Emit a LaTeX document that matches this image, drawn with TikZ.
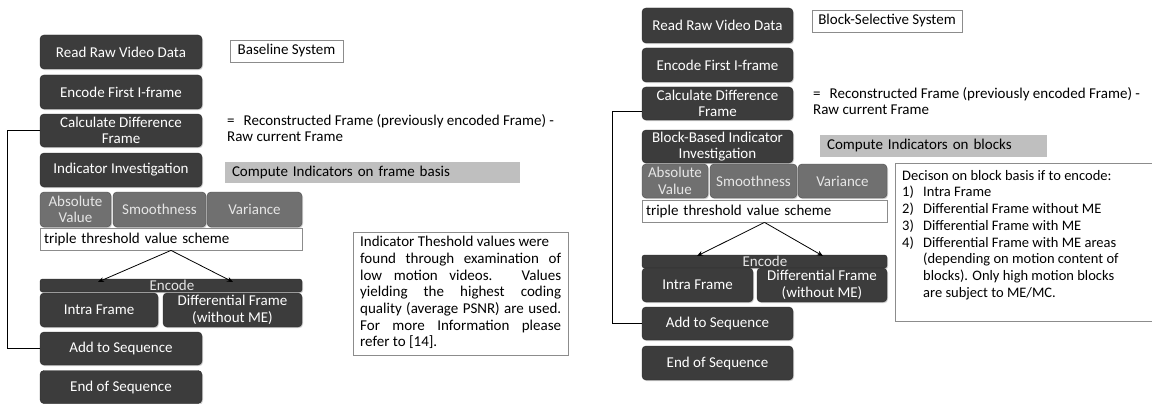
\documentclass[tikz,border=0pt]{standalone}
\usepackage{fontspec}
\setmainfont{Carlito}
\usetikzlibrary{shadows,arrows.meta}
\definecolor{boxfill}{HTML}{3C3C3C}
\definecolor{boxline}{HTML}{2A2A2A}
\definecolor{subfill}{HTML}{707070}
\definecolor{subtext}{HTML}{E6E6E6}
\definecolor{notefill}{HTML}{BFBFBF}
\definecolor{frameline}{HTML}{8C8C8C}
\newcommand{\bxfont}{\fontsize{15}{16.4}\selectfont}
\newcommand{\ntfont}{\fontsize{15}{16.7}\selectfont}
\newcommand{\dcfont}{\fontsize{14.5}{16.7}\selectfont}
\begin{document}
\begin{tikzpicture}[x=1pt,y=-1pt,
  mainbox/.style={draw=boxline, fill=boxfill, rounded corners=4pt, text=white,
    font=\bxfont, align=center, inner xsep=2pt, inner ysep=0.5pt,
    drop shadow={shadow xshift=1pt, shadow yshift=-1.2pt, opacity=0.35}},
  subbox/.style={mainbox, fill=subfill, draw=black!70, text=subtext},
  barbox/.style={mainbox, rounded corners=2.5pt, inner sep=0pt},
  bartext/.style={font=\bxfont, text=white!90!black, inner sep=0pt},
  whitebox/.style={draw=frameline, fill=white, font=\bxfont, inner sep=0pt, line width=0.8pt},
  graybox/.style={draw=none, fill=notefill, font=\bxfont, inner sep=0pt},
  plaintext/.style={font=\ntfont, inner sep=0pt, align=left},
  feed/.style={draw=black, line width=0.9pt},
  branch/.style={draw=black, line width=0.8pt, -{Stealth[length=6pt,width=5pt]}}
]
\useasboundingbox (0,0) rectangle (1152,404);
\fill[white] (0,0) rectangle (1152,404);

% ================= LEFT: Baseline System =================
\node[mainbox, minimum width=162pt, minimum height=34pt] (lread) at (121,52) {Read Raw Video Data};
\node[mainbox, minimum width=162pt, minimum height=34pt] (lenc1) at (121,92) {Encode First I-frame};
\node[mainbox, minimum width=162pt, minimum height=33pt] (lcalc) at (121,130.5) {Calculate Difference\\Frame};
\node[mainbox, minimum width=162pt, minimum height=34pt] (lind) at (121,170) {Indicator Investigation};
\node[subbox, minimum width=71pt, minimum height=35pt] (labs) at (75.5,209.5) {Absolute\\Value};
\node[subbox, minimum width=93pt, minimum height=35pt] (lsmooth) at (159.5,209.5) {Smoothness};
\node[subbox, minimum width=95pt, minimum height=35pt] (lvar) at (254.5,209.5) {Variance};
\node[whitebox, minimum width=262pt, minimum height=22pt, text width=254pt, align=left] (ltriple) at (171,239) {triple threshold value scheme};
\node[barbox, minimum width=262pt, minimum height=13pt] (lbar) at (171,285.5) {};
\node[bartext] (lenctext) at (172,285) {Encode};
\node[mainbox, minimum width=118pt, minimum height=34pt] (lintra) at (99,310) {Intra Frame};
\node[mainbox, minimum width=139pt, minimum height=34pt] (ldiff) at (232.5,310) {Differential Frame\\(without ME)};
\node[mainbox, minimum width=162pt, minimum height=33pt] (ladd) at (121,348.5) {Add to Sequence};
\node[mainbox, minimum width=162pt, minimum height=33pt] (lend) at (121,387) {End of Sequence};

\node[whitebox, minimum width=113pt, minimum height=22pt] (lbase) at (286.5,51) {Baseline System};
\node[plaintext, anchor=north west] (lrecon) at (227,114) {=\hspace{0.6em}Reconstructed Frame (previously encoded Frame) -\\Raw current Frame};
\node[graybox, minimum width=295pt, minimum height=21pt, text width=281pt, align=left] (lcomp) at (372.5,172.5) {Compute Indicators on frame basis};
\node[whitebox, minimum width=215pt, minimum height=123pt] (lnote) at (460.5,293.5) {};
\node[plaintext, anchor=north west] (lnotetext) at (360,236) {%
Indicator Theshold values were\\
\makebox[201pt][s]{found through examination of}\\
\makebox[201pt][s]{low motion videos. Values}\\
\makebox[201pt][s]{yielding the highest coding}\\
\makebox[201pt][s]{quality (average PSNR) are used.}\\
\makebox[201pt][s]{For more Information please}\\
refer to [14].};

\coordinate (ltipA) at (98,282);
\coordinate (ltipB) at (233,282);
\draw[branch] (ltriple.south) -- (ltipA);
\draw[branch] (ltriple.south) -- (ltipB);
\coordinate (lcorner) at (7,132);
\draw[feed] (lcalc.west) -- (lcalc.west -| lcorner) |- (ladd.west);

% ================= RIGHT: Block-Selective System =================
\node[mainbox, minimum width=151pt, minimum height=35pt] (rread) at (717.5,25.5) {Read Raw Video Data};
\node[mainbox, minimum width=151pt, minimum height=34pt] (renc1) at (717.5,65) {Encode First I-frame};
\node[mainbox, minimum width=151pt, minimum height=33pt] (rcalc) at (717.5,103.5) {Calculate Difference\\Frame};
\node[mainbox, minimum width=151pt, minimum height=33pt] (rind) at (717.5,146.5) {Block-Based Indicator\\Investigation};
\node[subbox, minimum width=66pt, minimum height=34pt] (rabs) at (675,181) {Absolute\\Value};
\node[subbox, minimum width=87pt, minimum height=34pt] (rsmooth) at (753.5,181) {Smoothness};
\node[subbox, minimum width=89pt, minimum height=34pt] (rvar) at (842.5,181) {Variance};
\node[whitebox, minimum width=245pt, minimum height=22pt, text width=237pt, align=left] (rtriple) at (764.5,211) {triple threshold value scheme};
\node[barbox, minimum width=245pt, minimum height=13pt] (rbar) at (764.5,261.5) {};
\node[bartext] (renctext) at (765,261) {Encode};
\node[mainbox, minimum width=111pt, minimum height=34pt] (rintra) at (697.5,285) {Intra Frame};
\node[mainbox, minimum width=130pt, minimum height=34pt] (rdiff) at (822,285) {Differential Frame\\(without ME)};
\node[mainbox, minimum width=151pt, minimum height=33pt] (radd) at (717.5,323.5) {Add to Sequence};
\node[mainbox, minimum width=151pt, minimum height=34pt] (rend) at (717.5,363) {End of Sequence};

\node[whitebox, minimum width=150pt, minimum height=22pt] (rblock) at (887,21) {Block-Selective System};
\node[plaintext, anchor=north west] (rrecon) at (813,87) {=\hspace{0.6em}Reconstructed Frame (previously encoded Frame) -\\Raw current Frame};
\node[graybox, minimum width=227pt, minimum height=22pt, text width=213pt, align=left] (rcomp) at (933.5,146) {Compute Indicators on blocks};
\node[whitebox, minimum width=262pt, minimum height=158pt] (rnote) at (1026,242) {};
\node[plaintext, font=\dcfont, anchor=north west] (rnotetext) at (902,170) {%
Decison on block basis if to encode:\\
\makebox[21pt][l]{1)}Intra Frame\\
\makebox[21pt][l]{2)}Differential Frame without ME\\
\makebox[21pt][l]{3)}Differential Frame with ME\\
\makebox[21pt][l]{4)}Differential Frame with ME areas\\
\hspace*{21pt}(depending on motion content of\\
\hspace*{21pt}blocks). Only high motion blocks\\
\hspace*{21pt}are subject to ME/MC.};

\coordinate (rtipA) at (697,256);
\coordinate (rtipB) at (823,256);
\draw[branch] (rtriple.south) -- (rtipA);
\draw[branch] (rtriple.south) -- (rtipB);
\coordinate (rcorner) at (612,113);
\draw[feed] ([yshift=-8pt]rcalc.west) -- ([yshift=-8pt]rcalc.west -| rcorner) |- (radd.west);
\end{tikzpicture}
\end{document}
